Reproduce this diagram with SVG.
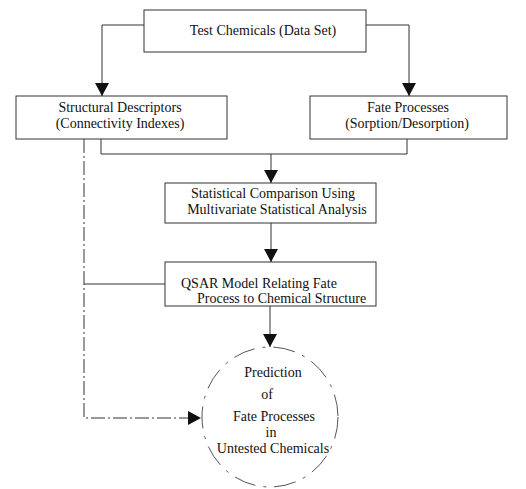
<svg xmlns="http://www.w3.org/2000/svg" width="526" height="489" viewBox="0 0 526 489">
<defs>
<style>
.box{fill:#fff;stroke:#333;stroke-width:1}
.ln{fill:none;stroke:#333;stroke-width:1}
.dash{fill:none;stroke:#333;stroke-width:1;stroke-dasharray:14 3 2 3}
.circ{fill:none;stroke:#555;stroke-width:1;stroke-dasharray:22 8 3 8}
text{font-family:"Liberation Serif","Times New Roman",serif;font-size:14px;fill:#111}
.c{text-anchor:middle}
</style>
<marker id="ah" markerWidth="13" markerHeight="14" refX="13" refY="7" orient="auto" markerUnits="userSpaceOnUse">
<path d="M0,0 L13,7 L0,14 Z" fill="#111"/>
</marker>
</defs>
<rect width="526" height="489" fill="#fff"/>
<g id="connectors">
<polyline class="ln" points="144,25 102,25 102,96" marker-end="url(#ah)"/>
<polyline class="ln" points="366,25 409,25 409,96" marker-end="url(#ah)"/>
<polyline class="ln" points="101,139 101,154 407,154 407,139"/>
<line class="ln" x1="271" y1="154" x2="271" y2="183" marker-end="url(#ah)"/>
<line class="ln" x1="271" y1="223" x2="271" y2="262" marker-end="url(#ah)"/>
<line class="ln" x1="270" y1="306" x2="270" y2="347" marker-end="url(#ah)"/>
<polyline class="dash" points="84,139 84,418 201,418" marker-end="url(#ah)"/>
<line class="ln" x1="84" y1="284" x2="165" y2="284" stroke="#777"/>
</g>
<g id="test-chemicals">
<rect class="box" x="144" y="10" width="222" height="42"/>
<text class="c" x="263" y="35">Test Chemicals (Data Set)</text>
</g>
<g id="structural-descriptors">
<rect class="box" x="16" y="96" width="211" height="43"/>
<text class="c" x="120" y="112">Structural Descriptors</text>
<text class="c" x="120" y="128">(Connectivity Indexes)</text>
</g>
<g id="fate-processes">
<rect class="box" x="310" y="96" width="197" height="43"/>
<text class="c" x="408" y="112">Fate Processes</text>
<text class="c" x="407" y="128">(Sorption/Desorption)</text>
</g>
<g id="statistical-comparison">
<rect class="box" x="165" y="183" width="211" height="40"/>
<text class="c" x="273" y="198">Statistical Comparison Using</text>
<text class="c" x="277" y="214">Multivariate Statistical Analysis</text>
</g>
<g id="qsar-model">
<rect class="box" x="165" y="262" width="211" height="44"/>
<text x="181" y="288">QSAR Model Relating Fate</text>
<text x="197" y="303">Process to Chemical Structure</text>
</g>
<g id="prediction">
<ellipse class="circ" cx="270" cy="417" rx="68" ry="70"/>
<text class="c" x="273" y="377">Prediction</text>
<text class="c" x="267" y="399">of</text>
<text class="c" x="274" y="421">Fate Processes</text>
<text class="c" x="271" y="437">in</text>
<text class="c" x="273" y="453">Untested Chemicals</text>
</g>
</svg>
